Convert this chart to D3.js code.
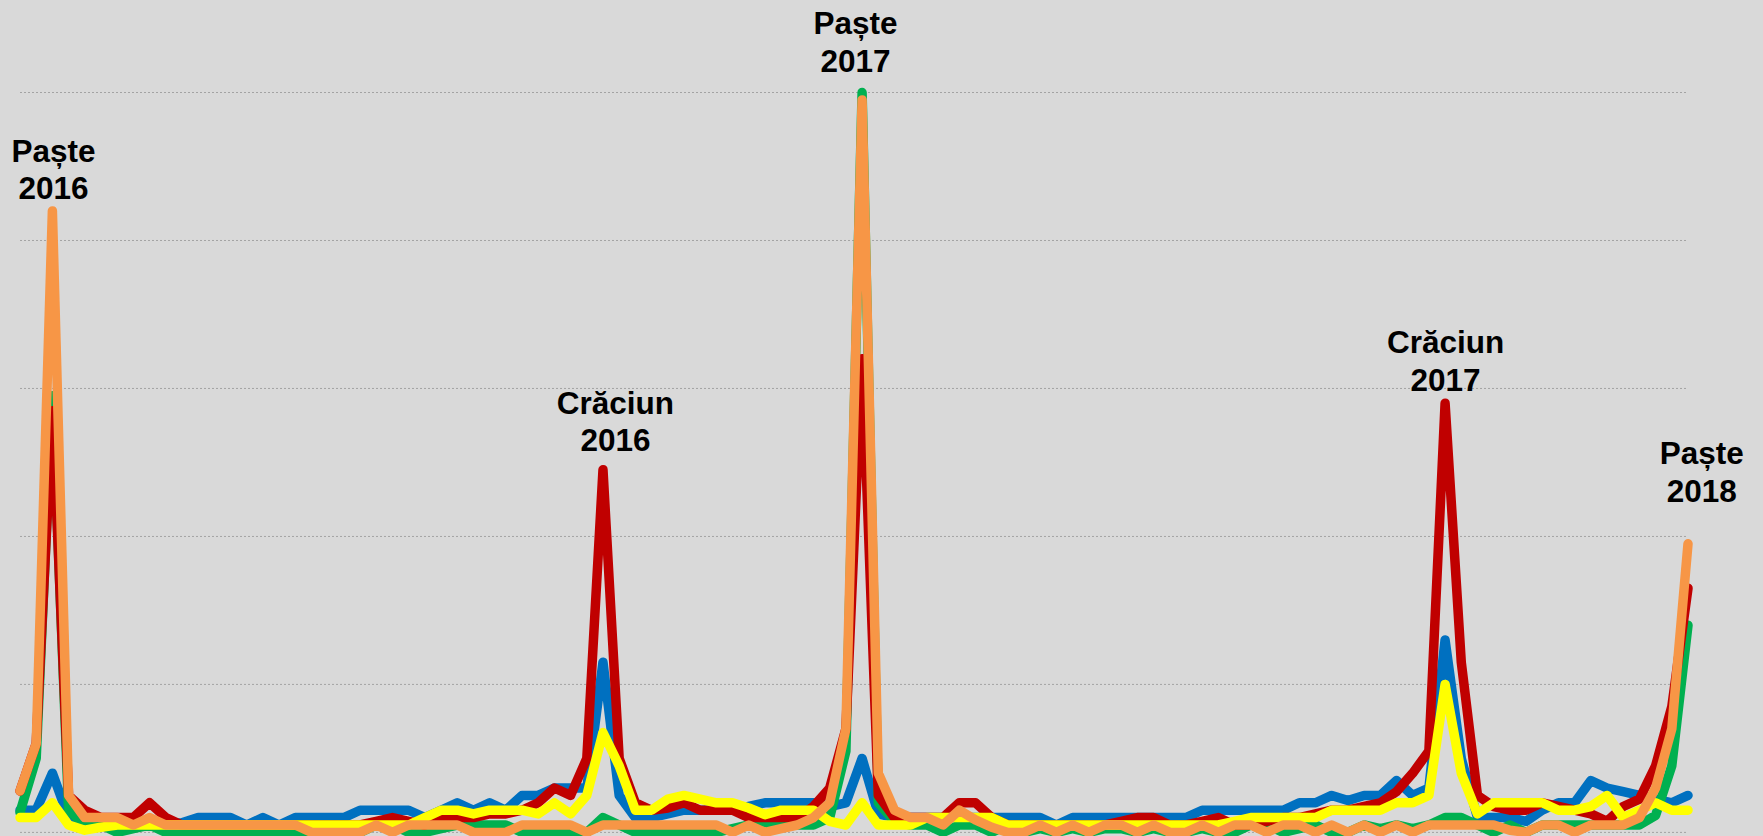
<!DOCTYPE html>
<html>
<head>
<meta charset="utf-8">
<script src="https://cdn.jsdelivr.net/npm/d3@7/dist/d3.min.js"></script>
<style>
  html, body { margin: 0; padding: 0; background: #d9d9d9; }
  svg { display: block; }
</style>
</head>
<body>
<svg id="chart"></svg>
<script>
var width = 1763;
var height = 836;

// saptamani (duminica) de la 17 aprilie 2016 pana la 8 aprilie 2018
var weeks = d3.timeWeek.range(new Date(2016, 3, 17), new Date(2018, 3, 9));

var blueValues = [
  3, 3, 8, 2, 1.5, 1, 1, 1, 1, 1,
  1.3, 2, 2, 2, 1, 2, 1, 2, 2, 2,
  2, 3, 3, 3, 3, 2, 3, 4, 3, 4,
  3, 5, 5, 6, 6, 6, 23, 5, 2, 2,
  2.5, 3, 3, 3, 3, 3.5, 4, 4, 4, 4,
  3.5, 4, 10, 2.5, 2, 2, 2, 2, 2, 2,
  2, 2, 2, 2, 1, 2, 2, 2, 2, 2,
  2, 2, 2, 3, 3, 3, 3, 3, 3, 4,
  4, 5, 4.3, 5, 5, 7, 5, 6, 26, 10,
  2, 2, 2, 1.5, 3, 4, 4, 7, 6, 5.5,
  5, 4.5, 4, 5
];
var redValues = [
  5.6, 12, 57, 5, 3, 2, 2, 2, 4, 2,
  1, 1, 1, 1, 1, 1, 1, 1, 1, 1,
  1, 1, 1.5, 2, 1.5, 1, 2, 2, 2, 2.5,
  2.5, 3, 4, 6, 5, 10, 49, 10, 4, 3,
  3.3, 4, 3, 3, 3, 2, 2, 2, 2, 3.5,
  6, 14, 64, 5, 2, 2, 2, 2, 4, 4,
  2, 1, 1, 1, 1, 1, 1, 1, 1.5, 2,
  2, 1, 1, 1.5, 2, 1, 1, 1.5, 2, 2,
  2.5, 3, 3, 3.5, 4, 5.5, 8, 11, 58, 23,
  5, 3.5, 3, 3, 4, 3.5, 3, 2.5, 1.5, 3.5,
  4.5, 9, 17, 33
];
var greenValues = [
  2.7, 10, 59, 3, 1, 1, 0, 0.5, 1, 0,
  0, 0, 0, 0, 0, 0, 0, 0, 0, 0.5,
  1, 0, 1, 1, 0, 0, 0.5, 1, 1, 1,
  1, 0, 0, 0, 0, 0, 2, 1, 0, 0,
  0, 0, 0, 0, 0.5, 1, 1, 1, 1, 1,
  2, 11, 100, 4, 1.5, 1, 1, 0, 1, 1,
  0, 1, 0, 0.5, 0, 0.5, 0, 0.5, 0.5, 0,
  0.5, 0, 0, 0.5, 0, 0, 1, 1, 0, 0.5,
  1, 0, 0, 1, 0.5, 1, 0.5, 1, 2, 2,
  1, 0, 1, 0, 1, 1, 1, 1, 1, 1,
  1, 2.3, 9, 28
];
var yellowValues = [
  2, 2, 4, 1, 0.3, 0.7, 1, 1, 1, 1,
  1, 1, 1, 1, 1, 1, 1, 1, 1, 1,
  1, 1, 1, 1, 1, 2, 3, 3, 2.5, 3,
  3, 3, 2.5, 4, 2.5, 5, 13.5, 9, 3, 3,
  4.5, 5, 4.5, 4, 4, 3.3, 2.4, 3, 3, 3,
  1.5, 1, 4, 1, 1, 1, 2, 2, 2, 2,
  2, 1, 1, 1, 1, 1, 1, 1, 1, 1,
  1, 1, 1, 1, 1, 1.5, 2, 2, 2, 2,
  2, 3, 3, 3, 3, 4, 4, 5, 20, 8,
  2.5, 4, 4, 4, 4, 3, 3, 3.5, 5, 2,
  3, 4, 3, 3
];
var orangeValues = [
  5.6, 12, 84, 5, 2, 2, 2, 1, 2, 1,
  1, 1, 1, 1, 1, 1, 1, 1, 0, 0,
  0, 0, 1, 0, 1, 1, 1, 1, 0, 0,
  0, 1, 1, 1, 1, 0, 1, 1, 1, 1,
  1, 1, 1, 1, 0, 1, 0, 0.5, 1, 2,
  4, 14, 99, 8, 3, 2, 2, 1, 3, 1.7,
  0.7, 0, 0, 1, 0, 1, 0, 1, 1, 0,
  1, 0, 0, 1, 0, 1, 1, 0, 1, 1,
  0, 1, 0, 1, 0, 1, 0, 1, 1, 1,
  1, 1, 0.3, 0, 1, 1, 0, 1, 1, 1,
  2, 6, 14, 39
];

var gridTicks = [0, 20, 40, 60, 80, 100];

// etichete: text, pozitie (index saptamana), nivel (valoare) pentru al doilea rand
var labelLines = [["Paște", "2016"], ["Crăciun", "2016"], ["Paște", "2017"], ["Crăciun", "2017"], ["Paște", "2018"]];
var labelWeekPos = [2.07, 36.77, 51.59, 88.03, 103.85];
var labelLevel = [85.6, 51.5, 102.8, 59.7, 44.7];

var svg = d3.select('#chart')
  .attr('width', width)
  .attr('height', height);

svg.append('rect')
  .attr('width', width)
  .attr('height', height)
  .style('fill', '#d9d9d9');

var x = d3.scaleLinear()
  .domain([0, weeks.length - 1])
  .range([20, 1688]);

var y = d3.scaleLinear()
  .domain([0, 100])
  .range([832.4, 92.5]);

// linii de grila punctate
svg.append('g')
  .selectAll('line.grid')
  .data(gridTicks)
  .enter()
  .append('line')
  .attr('class', 'grid')
  .attr('x1', x(0))
  .attr('x2', x(weeks.length - 1))
  .attr('y1', d => y(d))
  .attr('y2', d => y(d))
  .style('stroke', '#a3a3a3')
  .style('stroke-width', 1)
  .style('stroke-dasharray', '2,2');

var series = [
  { name: 'blue', color: '#0070c0', values: blueValues },
  { name: 'green', color: '#00b050', values: greenValues },
  { name: 'red', color: '#c00000', values: redValues },
  { name: 'yellow', color: '#ffff00', values: yellowValues },
  { name: 'orange', color: '#f79646', values: orangeValues }
];

var line = d3.line()
  .x((d, i) => x(i))
  .y(d => y(d));

svg.append('g')
  .selectAll('path.serie')
  .data(series)
  .enter()
  .append('path')
  .attr('class', 'serie')
  .attr('d', d => line(d.values))
  .style('fill', 'none')
  .style('stroke', d => d.color)
  .style('stroke-width', 9.5)
  .style('stroke-linejoin', 'round')
  .style('stroke-linecap', 'round');

var labels = svg.append('g')
  .selectAll('text.label')
  .data(labelLines)
  .enter()
  .append('text')
  .attr('class', 'label')
  .attr('x', (d, i) => x(labelWeekPos[i]))
  .attr('y', (d, i) => y(labelLevel[i]))
  .style('font-family', '"Liberation Sans", Arial, sans-serif')
  .style('font-weight', 'bold')
  .style('font-size', '31.5px')
  .style('fill', '#000')
  .style('text-anchor', 'middle');

labels.append('tspan')
  .attr('x', (d, i) => x(labelWeekPos[i]))
  .attr('dy', -37.5)
  .text(d => d[0]);

labels.append('tspan')
  .attr('x', (d, i) => x(labelWeekPos[i]))
  .attr('dy', 37.5)
  .text(d => d[1]);
</script>
</body>
</html>
